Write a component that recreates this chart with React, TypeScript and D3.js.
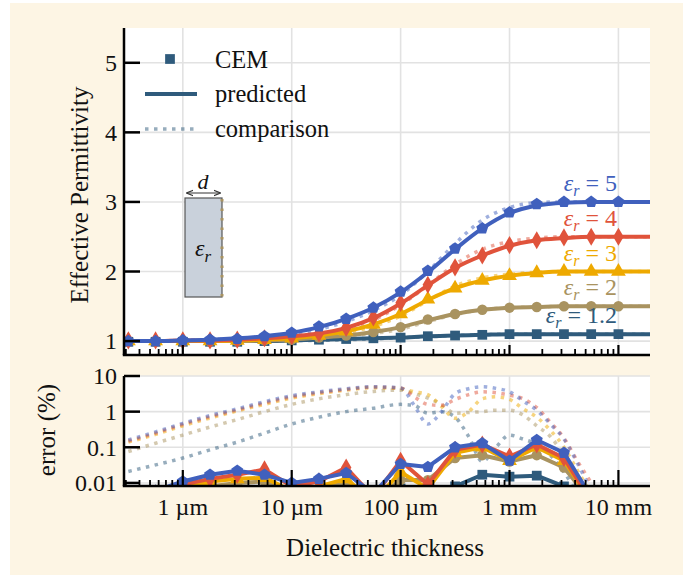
import React from "react";
import * as d3 from "d3";

const W = 691;
const H = 575;
const FONT = "'Liberation Serif', 'DejaVu Serif', serif";

// thickness positions, log10 of metres
const cemExp = [-6.5, -6.25, -6, -5.75, -5.5, -5.25, -5, -4.75, -4.5, -4.25, -4, -3.75, -3.5, -3.25, -3, -2.75, -2.5, -2.25, -2];
const predExp = [-6.75, -6.5, -6.25, -6, -5.75, -5.5, -5.25, -5, -4.75, -4.5, -4.25, -4, -3.75, -3.5, -3.25, -3, -2.75, -2.5, -2.25, -2, -1.75, -1.5];
const cmpErrExp = [-6.5, -6.25, -6, -5.75, -5.5, -5.25, -5, -4.75, -4.5, -4.25, -4, -3.875, -3.75, -3.625, -3.5, -3.375, -3.25, -3.125, -3, -2.875, -2.75, -2.625, -2.5, -2.375, -2.25, -2.125];

// effective permittivity, CEM
const cem5 = [1.0, 1.0, 1.01, 1.02, 1.03, 1.07, 1.12, 1.21, 1.32, 1.48, 1.71, 2.01, 2.33, 2.62, 2.85, 2.97, 3.0, 3.0, 3.0];
const cem4 = [1.01, 1.01, 1.01, 1.01, 1.02, 1.04, 1.07, 1.11, 1.19, 1.34, 1.55, 1.81, 2.06, 2.23, 2.38, 2.45, 2.49, 2.5, 2.5];
const cem3 = [1.0, 1.0, 1.0, 1.0, 1.01, 1.02, 1.04, 1.08, 1.14, 1.24, 1.39, 1.6, 1.76, 1.87, 1.94, 1.98, 2.0, 2.0, 2.0];
const cem2 = [1.0, 1.0, 1.0, 1.0, 1.0, 1.01, 1.02, 1.05, 1.08, 1.13, 1.2, 1.31, 1.39, 1.45, 1.48, 1.49, 1.5, 1.5, 1.5];
const cem12 = [0.99, 0.99, 0.99, 0.99, 0.99, 1.0, 1.01, 1.02, 1.03, 1.04, 1.05, 1.07, 1.08, 1.09, 1.1, 1.1, 1.1, 1.1, 1.1];

// predicted
const pred5 = [1.0, 1.0, 1.0, 1.01, 1.02, 1.04, 1.07, 1.12, 1.2, 1.32, 1.48, 1.7, 1.99, 2.32, 2.62, 2.84, 2.95, 2.99, 3.0, 3.0, 3.0, 3.0];
const pred4 = [1.0, 1.0, 1.0, 1.01, 1.01, 1.02, 1.04, 1.07, 1.11, 1.19, 1.33, 1.54, 1.8, 2.05, 2.23, 2.37, 2.45, 2.48, 2.5, 2.5, 2.5, 2.5];
const pred3 = [1.0, 1.0, 1.0, 1.0, 1.0, 1.01, 1.02, 1.04, 1.08, 1.14, 1.24, 1.39, 1.59, 1.76, 1.87, 1.94, 1.98, 2.0, 2.0, 2.0, 2.0, 2.0];
const pred2 = [1.0, 1.0, 1.0, 1.0, 1.0, 1.0, 1.01, 1.02, 1.05, 1.08, 1.13, 1.2, 1.3, 1.39, 1.45, 1.48, 1.49, 1.5, 1.5, 1.5, 1.5, 1.5];
const pred12 = [1.0, 1.0, 1.0, 1.0, 1.0, 1.0, 1.0, 1.01, 1.02, 1.03, 1.04, 1.05, 1.07, 1.08, 1.09, 1.1, 1.1, 1.1, 1.1, 1.1, 1.1, 1.1];

// comparison model
const cmp5 = [1.0, 1.0, 1.0, 1.01, 1.02, 1.04, 1.06, 1.1, 1.17, 1.28, 1.44, 1.66, 2.0, 2.4, 2.74, 2.92, 2.99, 3.0, 3.0, 3.0, 3.0, 3.0];
const cmp4 = [1.0, 1.0, 1.0, 1.01, 1.01, 1.02, 1.03, 1.06, 1.1, 1.17, 1.3, 1.52, 1.8, 2.1, 2.32, 2.43, 2.48, 2.5, 2.5, 2.5, 2.5, 2.5];
const cmp3 = [1.0, 1.0, 1.0, 1.0, 1.0, 1.01, 1.02, 1.04, 1.07, 1.12, 1.21, 1.36, 1.58, 1.79, 1.91, 1.96, 1.99, 2.0, 2.0, 2.0, 2.0, 2.0];
const cmp2 = [1.0, 1.0, 1.0, 1.0, 1.0, 1.0, 1.01, 1.02, 1.04, 1.07, 1.11, 1.17, 1.28, 1.38, 1.45, 1.48, 1.49, 1.5, 1.5, 1.5, 1.5, 1.5];
const cmp12 = [1.0, 1.0, 1.0, 1.0, 1.0, 1.0, 1.0, 1.01, 1.01, 1.02, 1.03, 1.05, 1.06, 1.08, 1.09, 1.1, 1.1, 1.1, 1.1, 1.1, 1.1, 1.1];

// error (%) of predicted vs CEM
const err5 = [0.004, 0.006, 0.011, 0.017, 0.022, 0.017, 0.01, 0.013, 0.019, 0.005, 0.034, 0.028, 0.1, 0.13, 0.042, 0.16, 0.07, 0.004, 0.002];
const err4 = [0.004, 0.005, 0.009, 0.013, 0.017, 0.024, 0.008, 0.011, 0.027, 0.004, 0.042, 0.009, 0.085, 0.12, 0.055, 0.12, 0.05, 0.003, 0.002];
const err3 = [0.003, 0.004, 0.007, 0.011, 0.013, 0.014, 0.006, 0.008, 0.013, 0.003, 0.02, 0.007, 0.07, 0.1, 0.042, 0.1, 0.042, 0.003, 0.002];
const err2 = [0.002, 0.003, 0.005, 0.008, 0.01, 0.011, 0.005, 0.007, 0.01, 0.003, 0.012, 0.012, 0.05, 0.06, 0.04, 0.06, 0.027, 0.003, 0.002];
const err12 = [0.002, 0.002, 0.003, 0.004, 0.005, 0.005, 0.003, 0.004, 0.006, 0.002, 0.007, 0.006, 0.008, 0.017, 0.015, 0.016, 0.008, 0.002, 0.001];

// error (%) of comparison vs CEM
const cmpErr5 = [0.16, 0.27, 0.47, 0.78, 1.2, 1.9, 2.8, 3.6, 4.4, 5.0, 4.6, 1.5, 0.45, 1.0, 3.2, 4.4, 5.0, 4.5, 3.6, 2.0, 1.1, 0.45, 0.17, 0.035, 0.006, 0.001];
const cmpErr4 = [0.15, 0.25, 0.44, 0.72, 1.12, 1.75, 2.6, 3.4, 4.2, 4.9, 4.6, 2.6, 1.6, 1.5, 2.2, 3.0, 3.6, 3.4, 2.9, 2.3, 1.3, 0.5, 0.18, 0.04, 0.01, 0.002];
const cmpErr3 = [0.14, 0.23, 0.4, 0.66, 1.05, 1.6, 2.4, 3.2, 4.0, 4.7, 4.4, 3.6, 3.0, 1.4, 0.65, 1.0, 2.3, 2.6, 2.2, 1.2, 0.7, 0.3, 0.1, 0.022, 0.005, 0.001];
const cmpErr2 = [0.076, 0.13, 0.22, 0.37, 0.6, 1.0, 1.6, 2.3, 3.0, 3.7, 4.0, 3.2, 2.4, 1.6, 0.9, 0.95, 1.0, 1.1, 1.1, 0.8, 0.4, 0.2, 0.06, 0.015, 0.003, 0.001];
const cmpErr12 = [0.021, 0.032, 0.05, 0.085, 0.14, 0.25, 0.45, 0.7, 1.0, 1.25, 1.6, 1.5, 0.9, 1.0, 0.7, 0.2, 0.04, 0.1, 0.22, 0.17, 0.12, 0.06, 0.02, 0.005, 0.001, 0.001];

const xTickVals = [1e-6, 1e-5, 1e-4, 1e-3, 1e-2];
const xTickLabels = ["1 µm", "10 µm", "100 µm", "1 mm", "10 mm"];
const yTopTicks = [1, 2, 3, 4, 5];
const yBotTicks = [0.01, 0.1, 1, 10];
const yBotLabels = ["0.01", "0.1", "1", "10"];

const pentagon = {
  draw(ctx: any, size: number) {
    const r = Math.sqrt(size / (2.5 * Math.sin((2 * Math.PI) / 5)));
    for (let i = 0; i < 5; i++) {
      const a = -Math.PI / 2 + (i * 2 * Math.PI) / 5;
      if (i) ctx.lineTo(r * Math.cos(a), r * Math.sin(a));
      else ctx.moveTo(r * Math.cos(a), r * Math.sin(a));
    }
    ctx.closePath();
  },
};

const series = [
  { name: "1.2", color: "#2f5b7c", sym: d3.symbolSquare, size: 95, cem: cem12, pred: pred12, cmp: cmp12, err: err12, cmpErr: cmpErr12 },
  { name: "2", color: "#a99360", sym: d3.symbolCircle, size: 85, cem: cem2, pred: pred2, cmp: cmp2, err: err2, cmpErr: cmpErr2 },
  { name: "3", color: "#eea900", sym: d3.symbolTriangle, size: 95, cem: cem3, pred: pred3, cmp: cmp3, err: err3, cmpErr: cmpErr3 },
  { name: "4", color: "#e0533b", sym: d3.symbolDiamond, size: 95, cem: cem4, pred: pred4, cmp: cmp4, err: err4, cmpErr: cmpErr4 },
  { name: "5", color: "#4060bd", sym: pentagon, size: 95, cem: cem5, pred: pred5, cmp: cmp5, err: err5, cmpErr: cmpErr5 },
];

const L = 124, R = 650;
const TOP0 = 28, TOP1 = 355;
const BOT0 = 376, BOT1 = 486;

export default function App() {
  const x = d3.scaleLog().domain([Math.pow(10, -6.54), Math.pow(10, -1.71)]).range([L, R]);
  const yT = d3.scaleLinear().domain([0.8, 5.5]).range([TOP1, TOP0]);
  const yB = d3.scaleLog().domain([0.0082, 10]).range([BOT1, BOT0]);
  const minorX = x.ticks().filter((t) => !xTickVals.some((v) => Math.abs(t / v - 1) < 1e-6));

  const lineT = (ex: number[], vals: number[]) =>
    d3.line<number>().x((_, i) => x(Math.pow(10, ex[i]))).y((v) => yT(v)).curve(d3.curveMonotoneX)(vals) || "";
  const lineB = (ex: number[], vals: number[], curve: any) =>
    d3.line<number>().x((_, i) => x(Math.pow(10, ex[i]))).y((v) => yB(Math.max(v, 1e-4))).curve(curve)(vals) || "";
  const sym = (s: any) => d3.symbol().type(s.sym).size(s.size)() || "";

  const text = { fontFamily: FONT, fill: "#111" } as const;

  return (
    <svg width={W} height={H} style={{ position: "absolute", left: 0, top: 0 }}>
      <defs>
        <clipPath id="clipTop"><rect x={L} y={TOP0} width={R - L} height={TOP1 - TOP0} /></clipPath>
        <clipPath id="clipBot"><rect x={L} y={BOT0} width={R - L} height={BOT1 - BOT0} /></clipPath>
        <marker id="arr" viewBox="0 0 10 10" refX="9" refY="5" markerWidth="6" markerHeight="6" orient="auto-start-reverse">
          <path d="M0,1 L10,5 L0,9" fill="none" stroke="#333" strokeWidth="1.5" />
        </marker>
      </defs>
      <rect x={10} y={3} width={673} height={572} fill="#fdf5e4" />
      <rect x={L} y={TOP0} width={R - L} height={TOP1 - TOP0} fill="#fff" />
      <rect x={L} y={BOT0} width={R - L} height={BOT1 - BOT0} fill="#fff" />

      {/* grid */}
      <g stroke="#e2e2e2" strokeWidth={1.6}>
        {xTickVals.map((v) => (
          <g key={v}>
            <line x1={x(v)} x2={x(v)} y1={TOP0} y2={TOP1} />
            <line x1={x(v)} x2={x(v)} y1={BOT0} y2={BOT1} />
          </g>
        ))}
        {yTopTicks.map((v) => <line key={v} x1={L} x2={R} y1={yT(v)} y2={yT(v)} />)}
        {yBotTicks.map((v) => <line key={v} x1={L} x2={R} y1={yB(v)} y2={yB(v)} />)}
      </g>

      {/* top panel */}
      <g clipPath="url(#clipTop)">
        {series.map((s) => (
          <path key={"c" + s.name} d={lineT(predExp, s.cmp)} fill="none" stroke={s.color} strokeOpacity={0.5}
            strokeWidth={3.5} strokeDasharray="3.5,5.5" />
        ))}
        {series.map((s) => (
          <g key={s.name}>
            <path d={lineT(predExp, s.pred)} fill="none" stroke={s.color} strokeWidth={4} strokeLinejoin="round" />
            {s.cem.map((v, i) => (
              <path key={i} d={sym(s)} fill={s.color}
                transform={`translate(${x(Math.pow(10, cemExp[i]))},${yT(v)})`} />
            ))}
          </g>
        ))}
      </g>

      {/* inset sketch */}
      <rect x={185} y={198} width={37} height={99} fill="#c9d1db" stroke="#555" strokeWidth={1.2} />
      <line x1={222} x2={222} y1={199} y2={297} stroke="#a99360" strokeWidth={3} strokeDasharray="2.5,7" />
      <line x1={187} x2={220} y1={193} y2={193} stroke="#333" strokeWidth={1.2} markerStart="url(#arr)" markerEnd="url(#arr)" />
      <text x={203} y={189} textAnchor="middle" fontSize={22} fontStyle="italic" style={text}>d</text>
      <text x={203} y={256} textAnchor="middle" fontSize={24} fontStyle="italic" style={text}>
        ε<tspan fontSize={17} dy={6}>r</tspan>
      </text>

      {/* series labels */}
      {series.map((s) => (
        <text key={"l" + s.name} x={617} y={yT(s.pred[s.pred.length - 1]) - 11} textAnchor="end" fontSize={24}
          style={{ fontFamily: FONT }} fill={s.color}>
          <tspan fontStyle="italic">ε</tspan>
          <tspan fontStyle="italic" fontSize={16} dy={5}>r</tspan>
          <tspan dy={-5}> = {s.name}</tspan>
        </text>
      ))}

      {/* legend */}
      <path d={d3.symbol().type(d3.symbolSquare).size(95)() || ""} fill="#2f5b7c" transform="translate(170,59)" />
      <line x1={145} x2={197} y1={94} y2={94} stroke="#2f5b7c" strokeWidth={4} />
      <line x1={145} x2={197} y1={129} y2={129} stroke="#2f5b7c" strokeOpacity={0.5} strokeWidth={3.5} strokeDasharray="3.5,5.5" />
      <g fontSize={24.5} style={text}>
        <text x={215} y={68}>CEM</text>
        <text x={215} y={102}>predicted</text>
        <text x={215} y={137}>comparison</text>
      </g>

      {/* bottom panel */}
      <g clipPath="url(#clipBot)">
        {series.map((s) => (
          <path key={"ce" + s.name} d={lineB(cmpErrExp, s.cmpErr, d3.curveMonotoneX)} fill="none" stroke={s.color}
            strokeOpacity={0.5} strokeWidth={3.5} strokeDasharray="3.5,5.5" />
        ))}
        {series.map((s) => (
          <g key={"e" + s.name}>
            <path d={lineB(cemExp, s.err, d3.curveLinear)} fill="none" stroke={s.color} strokeWidth={4} strokeLinejoin="round" />
            {s.err.map((v, i) => (
              <path key={i} d={sym(s)} fill={s.color}
                transform={`translate(${x(Math.pow(10, cemExp[i]))},${yB(Math.max(v, 1e-4))})`} />
            ))}
          </g>
        ))}
      </g>

      {/* axes */}
      <g stroke="#000">
        <line x1={L} x2={L} y1={TOP0} y2={TOP1} strokeWidth={2.5} />
        <line x1={L - 1.2} x2={R} y1={TOP1} y2={TOP1} strokeWidth={2.5} />
        <line x1={L} x2={L} y1={BOT0} y2={BOT1} strokeWidth={2.5} />
        <line x1={L - 1.2} x2={R} y1={BOT1} y2={BOT1} strokeWidth={2.5} />
        {yTopTicks.map((v) => <line key={v} x1={L} x2={L + 16} y1={yT(v)} y2={yT(v)} strokeWidth={2.5} />)}
        {yBotTicks.map((v) => <line key={v} x1={L} x2={L + 16} y1={yB(v)} y2={yB(v)} strokeWidth={2.5} />)}
        {xTickVals.map((v) => (
          <g key={v}>
            <line x1={x(v)} x2={x(v)} y1={TOP1} y2={TOP1 - 10} strokeWidth={2.2} />
            <line x1={x(v)} x2={x(v)} y1={BOT1} y2={BOT1 - 16} strokeWidth={2.2} />
          </g>
        ))}
        {minorX.map((v) => (
          <g key={v}>
            <line x1={x(v)} x2={x(v)} y1={TOP1} y2={TOP1 - 6} strokeWidth={1.8} />
            <line x1={x(v)} x2={x(v)} y1={BOT1} y2={BOT1 - 6} strokeWidth={1.8} />
          </g>
        ))}
      </g>

      {/* tick labels */}
      <g fontSize={24} style={text}>
        {yTopTicks.map((v) => (
          <text key={v} x={117} y={yT(v)} dy="0.35em" textAnchor="end">{v}</text>
        ))}
        {yBotTicks.map((v, i) => (
          <text key={v} x={117} y={yB(v)} dy="0.35em" textAnchor="end">{yBotLabels[i]}</text>
        ))}
        {xTickVals.map((v, i) => (
          <text key={v} x={x(v)} y={515} textAnchor="middle">{xTickLabels[i]}</text>
        ))}
      </g>

      {/* axis titles */}
      <g fontSize={25} style={text}>
        <text transform="translate(88,195) rotate(-90)" textAnchor="middle">Effective Permittivity</text>
        <text transform="translate(55,430) rotate(-90)" textAnchor="middle">error (%)</text>
        <text x={385} y={556} textAnchor="middle">Dielectric thickness</text>
      </g>
    </svg>
  );
}
